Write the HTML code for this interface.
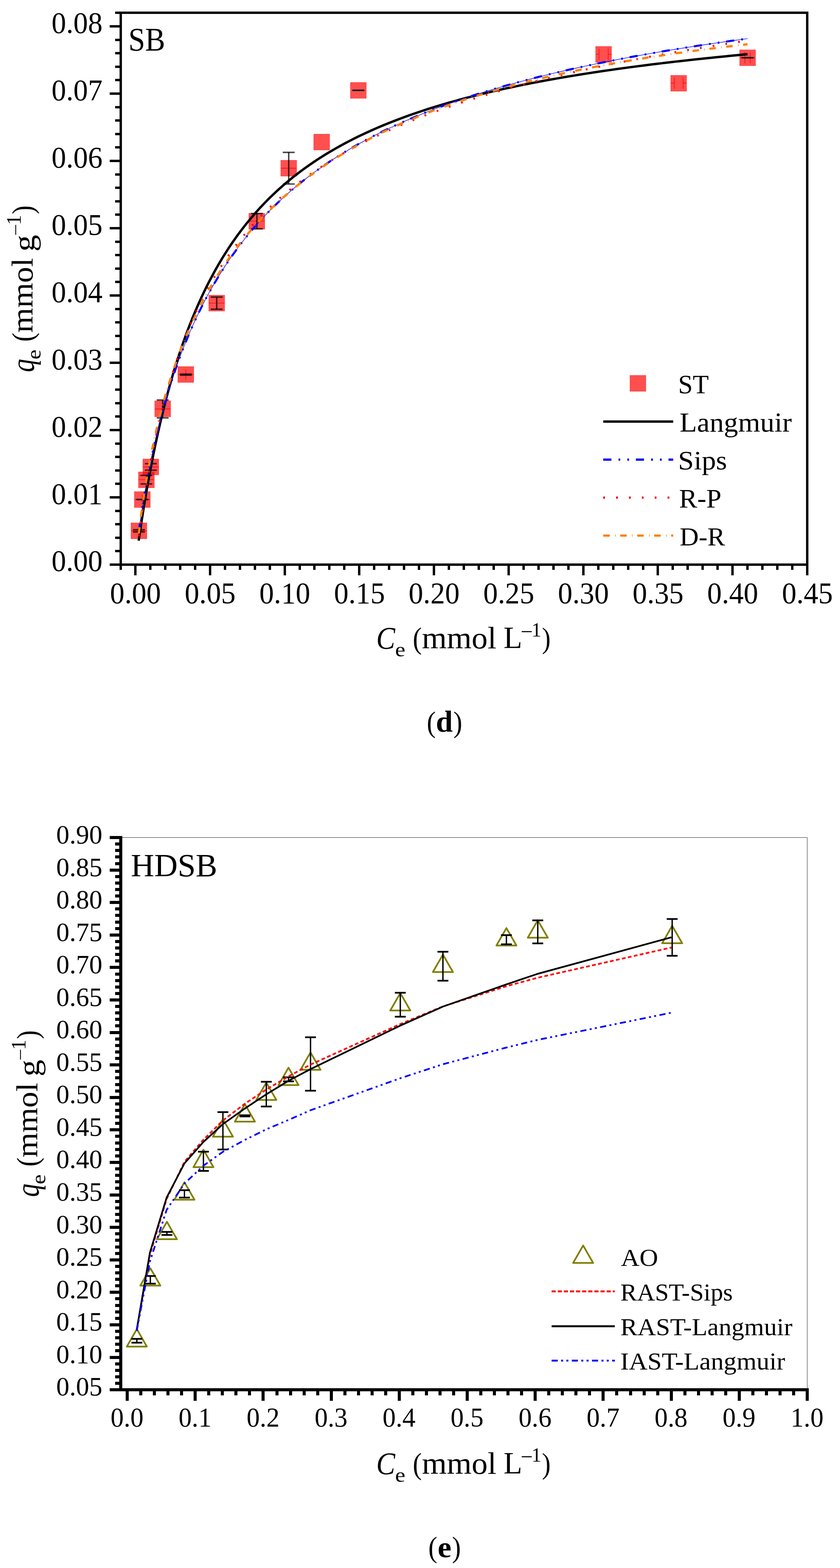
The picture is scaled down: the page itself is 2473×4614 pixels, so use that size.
<!DOCTYPE html>
<html lang="en"><head><meta charset="utf-8"><title>Adsorption isotherms (d) SB, (e) HDSB</title>
<style>
html,body{margin:0;padding:0;background:#fff;}
body{width:2473px;height:4614px;overflow:hidden;}
svg{display:block;}
svg text{font-family:'Liberation Serif','DejaVu Serif',serif;font-size:100px;fill:#000;white-space:pre;}
</style></head>
<body>
<svg width="2473" height="4614" viewBox="0 0 2473 4614">
<rect width="2473" height="4614" fill="#fff"/>
<g id="chart-d">
<rect x="352.00" y="34.00" width="7.00" height="1643.00" fill="#000" shape-rendering="crispEdges"/>
<rect x="339.00" y="34.00" width="2041.00" height="7.00" fill="#000" shape-rendering="crispEdges"/>
<rect x="2373.00" y="34.00" width="7.00" height="1659.00" fill="#000" shape-rendering="crispEdges"/>
<rect x="323.00" y="1658.00" width="2057.00" height="7.00" fill="#000" shape-rendering="crispEdges"/>
<rect x="323.00" y="1658.00" width="29.00" height="7.00" fill="#000" shape-rendering="crispEdges"/>
<rect x="339.00" y="1618.00" width="13.00" height="7.00" fill="#000" shape-rendering="crispEdges"/>
<rect x="339.00" y="1579.00" width="13.00" height="7.00" fill="#000" shape-rendering="crispEdges"/>
<rect x="339.00" y="1539.00" width="13.00" height="7.00" fill="#000" shape-rendering="crispEdges"/>
<rect x="339.00" y="1500.00" width="13.00" height="7.00" fill="#000" shape-rendering="crispEdges"/>
<rect x="323.00" y="1460.00" width="29.00" height="7.00" fill="#000" shape-rendering="crispEdges"/>
<rect x="339.00" y="1420.00" width="13.00" height="7.00" fill="#000" shape-rendering="crispEdges"/>
<rect x="339.00" y="1381.00" width="13.00" height="7.00" fill="#000" shape-rendering="crispEdges"/>
<rect x="339.00" y="1341.00" width="13.00" height="7.00" fill="#000" shape-rendering="crispEdges"/>
<rect x="339.00" y="1302.00" width="13.00" height="7.00" fill="#000" shape-rendering="crispEdges"/>
<rect x="323.00" y="1262.00" width="29.00" height="7.00" fill="#000" shape-rendering="crispEdges"/>
<rect x="339.00" y="1222.00" width="13.00" height="7.00" fill="#000" shape-rendering="crispEdges"/>
<rect x="339.00" y="1183.00" width="13.00" height="7.00" fill="#000" shape-rendering="crispEdges"/>
<rect x="339.00" y="1143.00" width="13.00" height="7.00" fill="#000" shape-rendering="crispEdges"/>
<rect x="339.00" y="1104.00" width="13.00" height="7.00" fill="#000" shape-rendering="crispEdges"/>
<rect x="323.00" y="1064.00" width="29.00" height="7.00" fill="#000" shape-rendering="crispEdges"/>
<rect x="339.00" y="1024.00" width="13.00" height="7.00" fill="#000" shape-rendering="crispEdges"/>
<rect x="339.00" y="985.00" width="13.00" height="7.00" fill="#000" shape-rendering="crispEdges"/>
<rect x="339.00" y="945.00" width="13.00" height="7.00" fill="#000" shape-rendering="crispEdges"/>
<rect x="339.00" y="906.00" width="13.00" height="7.00" fill="#000" shape-rendering="crispEdges"/>
<rect x="323.00" y="866.00" width="29.00" height="7.00" fill="#000" shape-rendering="crispEdges"/>
<rect x="339.00" y="826.00" width="13.00" height="7.00" fill="#000" shape-rendering="crispEdges"/>
<rect x="339.00" y="787.00" width="13.00" height="7.00" fill="#000" shape-rendering="crispEdges"/>
<rect x="339.00" y="747.00" width="13.00" height="7.00" fill="#000" shape-rendering="crispEdges"/>
<rect x="339.00" y="708.00" width="13.00" height="7.00" fill="#000" shape-rendering="crispEdges"/>
<rect x="323.00" y="668.00" width="29.00" height="7.00" fill="#000" shape-rendering="crispEdges"/>
<rect x="339.00" y="628.00" width="13.00" height="7.00" fill="#000" shape-rendering="crispEdges"/>
<rect x="339.00" y="589.00" width="13.00" height="7.00" fill="#000" shape-rendering="crispEdges"/>
<rect x="339.00" y="549.00" width="13.00" height="7.00" fill="#000" shape-rendering="crispEdges"/>
<rect x="339.00" y="510.00" width="13.00" height="7.00" fill="#000" shape-rendering="crispEdges"/>
<rect x="323.00" y="470.00" width="29.00" height="7.00" fill="#000" shape-rendering="crispEdges"/>
<rect x="339.00" y="430.00" width="13.00" height="7.00" fill="#000" shape-rendering="crispEdges"/>
<rect x="339.00" y="391.00" width="13.00" height="7.00" fill="#000" shape-rendering="crispEdges"/>
<rect x="339.00" y="351.00" width="13.00" height="7.00" fill="#000" shape-rendering="crispEdges"/>
<rect x="339.00" y="312.00" width="13.00" height="7.00" fill="#000" shape-rendering="crispEdges"/>
<rect x="323.00" y="272.00" width="29.00" height="7.00" fill="#000" shape-rendering="crispEdges"/>
<rect x="339.00" y="232.00" width="13.00" height="7.00" fill="#000" shape-rendering="crispEdges"/>
<rect x="339.00" y="193.00" width="13.00" height="7.00" fill="#000" shape-rendering="crispEdges"/>
<rect x="339.00" y="153.00" width="13.00" height="7.00" fill="#000" shape-rendering="crispEdges"/>
<rect x="339.00" y="114.00" width="13.00" height="7.00" fill="#000" shape-rendering="crispEdges"/>
<rect x="323.00" y="74.00" width="29.00" height="7.00" fill="#000" shape-rendering="crispEdges"/>
<rect x="395.00" y="1665.00" width="7.00" height="28.00" fill="#000" shape-rendering="crispEdges"/>
<rect x="439.00" y="1665.00" width="7.00" height="12.00" fill="#000" shape-rendering="crispEdges"/>
<rect x="483.00" y="1665.00" width="7.00" height="12.00" fill="#000" shape-rendering="crispEdges"/>
<rect x="527.00" y="1665.00" width="7.00" height="12.00" fill="#000" shape-rendering="crispEdges"/>
<rect x="571.00" y="1665.00" width="7.00" height="12.00" fill="#000" shape-rendering="crispEdges"/>
<rect x="615.00" y="1665.00" width="7.00" height="28.00" fill="#000" shape-rendering="crispEdges"/>
<rect x="659.00" y="1665.00" width="7.00" height="12.00" fill="#000" shape-rendering="crispEdges"/>
<rect x="703.00" y="1665.00" width="7.00" height="12.00" fill="#000" shape-rendering="crispEdges"/>
<rect x="747.00" y="1665.00" width="7.00" height="12.00" fill="#000" shape-rendering="crispEdges"/>
<rect x="791.00" y="1665.00" width="7.00" height="12.00" fill="#000" shape-rendering="crispEdges"/>
<rect x="835.00" y="1665.00" width="7.00" height="28.00" fill="#000" shape-rendering="crispEdges"/>
<rect x="879.00" y="1665.00" width="7.00" height="12.00" fill="#000" shape-rendering="crispEdges"/>
<rect x="922.00" y="1665.00" width="7.00" height="12.00" fill="#000" shape-rendering="crispEdges"/>
<rect x="966.00" y="1665.00" width="7.00" height="12.00" fill="#000" shape-rendering="crispEdges"/>
<rect x="1010.00" y="1665.00" width="7.00" height="12.00" fill="#000" shape-rendering="crispEdges"/>
<rect x="1054.00" y="1665.00" width="7.00" height="28.00" fill="#000" shape-rendering="crispEdges"/>
<rect x="1098.00" y="1665.00" width="7.00" height="12.00" fill="#000" shape-rendering="crispEdges"/>
<rect x="1142.00" y="1665.00" width="7.00" height="12.00" fill="#000" shape-rendering="crispEdges"/>
<rect x="1186.00" y="1665.00" width="7.00" height="12.00" fill="#000" shape-rendering="crispEdges"/>
<rect x="1230.00" y="1665.00" width="7.00" height="12.00" fill="#000" shape-rendering="crispEdges"/>
<rect x="1274.00" y="1665.00" width="7.00" height="28.00" fill="#000" shape-rendering="crispEdges"/>
<rect x="1318.00" y="1665.00" width="7.00" height="12.00" fill="#000" shape-rendering="crispEdges"/>
<rect x="1362.00" y="1665.00" width="7.00" height="12.00" fill="#000" shape-rendering="crispEdges"/>
<rect x="1406.00" y="1665.00" width="7.00" height="12.00" fill="#000" shape-rendering="crispEdges"/>
<rect x="1450.00" y="1665.00" width="7.00" height="12.00" fill="#000" shape-rendering="crispEdges"/>
<rect x="1494.00" y="1665.00" width="7.00" height="28.00" fill="#000" shape-rendering="crispEdges"/>
<rect x="1538.00" y="1665.00" width="7.00" height="12.00" fill="#000" shape-rendering="crispEdges"/>
<rect x="1582.00" y="1665.00" width="7.00" height="12.00" fill="#000" shape-rendering="crispEdges"/>
<rect x="1626.00" y="1665.00" width="7.00" height="12.00" fill="#000" shape-rendering="crispEdges"/>
<rect x="1670.00" y="1665.00" width="7.00" height="12.00" fill="#000" shape-rendering="crispEdges"/>
<rect x="1714.00" y="1665.00" width="7.00" height="28.00" fill="#000" shape-rendering="crispEdges"/>
<rect x="1758.00" y="1665.00" width="7.00" height="12.00" fill="#000" shape-rendering="crispEdges"/>
<rect x="1802.00" y="1665.00" width="7.00" height="12.00" fill="#000" shape-rendering="crispEdges"/>
<rect x="1846.00" y="1665.00" width="7.00" height="12.00" fill="#000" shape-rendering="crispEdges"/>
<rect x="1890.00" y="1665.00" width="7.00" height="12.00" fill="#000" shape-rendering="crispEdges"/>
<rect x="1933.00" y="1665.00" width="7.00" height="28.00" fill="#000" shape-rendering="crispEdges"/>
<rect x="1977.00" y="1665.00" width="7.00" height="12.00" fill="#000" shape-rendering="crispEdges"/>
<rect x="2021.00" y="1665.00" width="7.00" height="12.00" fill="#000" shape-rendering="crispEdges"/>
<rect x="2065.00" y="1665.00" width="7.00" height="12.00" fill="#000" shape-rendering="crispEdges"/>
<rect x="2109.00" y="1665.00" width="7.00" height="12.00" fill="#000" shape-rendering="crispEdges"/>
<rect x="2153.00" y="1665.00" width="7.00" height="28.00" fill="#000" shape-rendering="crispEdges"/>
<rect x="2197.00" y="1665.00" width="7.00" height="12.00" fill="#000" shape-rendering="crispEdges"/>
<rect x="2241.00" y="1665.00" width="7.00" height="12.00" fill="#000" shape-rendering="crispEdges"/>
<rect x="2285.00" y="1665.00" width="7.00" height="12.00" fill="#000" shape-rendering="crispEdges"/>
<rect x="2329.00" y="1665.00" width="7.00" height="12.00" fill="#000" shape-rendering="crispEdges"/>
<rect x="2373.00" y="1665.00" width="7.00" height="28.00" fill="#000" shape-rendering="crispEdges"/>
<rect x="385.0" y="1538.0" width="48" height="48" fill="#ff0000" fill-opacity="0.69" shape-rendering="crispEdges"/>
<rect x="395.0" y="1445.9" width="48" height="48" fill="#ff0000" fill-opacity="0.69" shape-rendering="crispEdges"/>
<rect x="407.0" y="1387.5" width="48" height="48" fill="#ff0000" fill-opacity="0.69" shape-rendering="crispEdges"/>
<rect x="420.0" y="1349.9" width="48" height="48" fill="#ff0000" fill-opacity="0.69" shape-rendering="crispEdges"/>
<rect x="454.9" y="1179.4" width="48" height="48" fill="#ff0000" fill-opacity="0.69" shape-rendering="crispEdges"/>
<rect x="523.1" y="1078.4" width="48" height="48" fill="#ff0000" fill-opacity="0.69" shape-rendering="crispEdges"/>
<rect x="614.0" y="868.0" width="48" height="48" fill="#ff0000" fill-opacity="0.69" shape-rendering="crispEdges"/>
<rect x="732.3" y="626.8" width="48" height="48" fill="#ff0000" fill-opacity="0.69" shape-rendering="crispEdges"/>
<rect x="826.0" y="470.9" width="48" height="48" fill="#ff0000" fill-opacity="0.69" shape-rendering="crispEdges"/>
<rect x="923.1" y="394.0" width="48" height="48" fill="#ff0000" fill-opacity="0.69" shape-rendering="crispEdges"/>
<rect x="1031.0" y="241.9" width="48" height="48" fill="#ff0000" fill-opacity="0.69" shape-rendering="crispEdges"/>
<rect x="1753.0" y="135.8" width="48" height="48" fill="#ff0000" fill-opacity="0.69" shape-rendering="crispEdges"/>
<rect x="1974.1" y="220.5" width="48" height="48" fill="#ff0000" fill-opacity="0.69" shape-rendering="crispEdges"/>
<rect x="2176.9" y="145.9" width="48" height="48" fill="#ff0000" fill-opacity="0.69" shape-rendering="crispEdges"/>
<g stroke="#ff0000" stroke-width="1.6" fill="none"><line x1="386.0" y1="1562.0" x2="432.0" y2="1562.0"/></g>
<g stroke="#ff0000" stroke-width="1.6" fill="none"><line x1="396.0" y1="1469.9" x2="442.0" y2="1469.9"/><line x1="419.0" y1="1454.9" x2="419.0" y2="1484.9"/></g>
<g stroke="#ff0000" stroke-width="1.6" fill="none"><line x1="408.0" y1="1411.5" x2="454.0" y2="1411.5"/></g>
<g stroke="#ff0000" stroke-width="1.6" fill="none"><line x1="421.0" y1="1373.9" x2="467.0" y2="1373.9"/></g>
<g stroke="#ff0000" stroke-width="1.6" fill="none"><line x1="455.9" y1="1203.4" x2="501.9" y2="1203.4"/></g>
<g stroke="#ff0000" stroke-width="1.6" fill="none"><line x1="524.1" y1="1102.4" x2="570.1" y2="1102.4"/><line x1="547.1" y1="1087.4" x2="547.1" y2="1117.4"/></g>
<g stroke="#ff0000" stroke-width="1.6" fill="none"><line x1="615.0" y1="892.0" x2="661.0" y2="892.0"/></g>
<g stroke="#ff0000" stroke-width="1.6" fill="none"><line x1="733.3" y1="650.8" x2="779.3" y2="650.8"/></g>
<g stroke="#ff0000" stroke-width="1.6" fill="none"><line x1="827.0" y1="494.9" x2="873.0" y2="494.9"/></g>
<g stroke="#ff0000" stroke-width="1.6" fill="none"><line x1="1763.5" y1="142.8" x2="1763.5" y2="176.8"/><line x1="1790.5" y1="142.8" x2="1790.5" y2="176.8"/><line x1="1754.0" y1="159.8" x2="1763.5" y2="159.8"/><line x1="1790.5" y1="159.8" x2="1800.0" y2="159.8"/></g>
<g stroke="#ff0000" stroke-width="1.6" fill="none"><line x1="1985.1" y1="227.5" x2="1985.1" y2="261.5"/><line x1="2011.1" y1="227.5" x2="2011.1" y2="261.5"/><line x1="1975.1" y1="244.5" x2="1985.1" y2="244.5"/><line x1="2011.1" y1="244.5" x2="2021.1" y2="244.5"/></g>
<g stroke="#ff0000" stroke-width="1.6" fill="none"><line x1="2192.9" y1="152.9" x2="2192.9" y2="186.9"/><line x1="2208.9" y1="152.9" x2="2208.9" y2="186.9"/><line x1="2177.9" y1="169.9" x2="2192.9" y2="169.9"/><line x1="2208.9" y1="169.9" x2="2223.9" y2="169.9"/></g>
<g stroke="#000" stroke-opacity="0.74" stroke-width="4.2" fill="none"><line x1="409.0" y1="1558.9" x2="409.0" y2="1565.1"/><line x1="391.5" y1="1558.9" x2="426.5" y2="1558.9"/><line x1="391.5" y1="1565.1" x2="426.5" y2="1565.1"/></g>
<g stroke="#000" stroke-opacity="0.95" stroke-width="4.2" fill="none"><line x1="401.2" y1="1469.9" x2="436.8" y2="1469.9"/></g>
<g stroke="#000" stroke-opacity="0.74" stroke-width="4.2" fill="none"><line x1="431.0" y1="1399.0" x2="431.0" y2="1424.0"/><line x1="413.5" y1="1399.0" x2="448.5" y2="1399.0"/><line x1="413.5" y1="1424.0" x2="448.5" y2="1424.0"/></g>
<g stroke="#000" stroke-opacity="0.74" stroke-width="4.2" fill="none"><line x1="444.0" y1="1364.3" x2="444.0" y2="1383.5"/><line x1="426.5" y1="1364.3" x2="461.5" y2="1364.3"/><line x1="426.5" y1="1383.5" x2="461.5" y2="1383.5"/></g>
<g stroke="#000" stroke-opacity="0.74" stroke-width="4.2" fill="none"><line x1="478.9" y1="1177.1" x2="478.9" y2="1229.7"/><line x1="461.4" y1="1177.1" x2="496.4" y2="1177.1"/><line x1="461.4" y1="1229.7" x2="496.4" y2="1229.7"/></g>
<g stroke="#000" stroke-opacity="0.74" stroke-width="4.2" fill="none"><line x1="547.1" y1="1100.9" x2="547.1" y2="1103.9"/><line x1="529.6" y1="1100.9" x2="564.6" y2="1100.9"/><line x1="529.6" y1="1103.9" x2="564.6" y2="1103.9"/></g>
<g stroke="#000" stroke-opacity="0.74" stroke-width="4.2" fill="none"><line x1="638.0" y1="874.1" x2="638.0" y2="909.9"/><line x1="620.5" y1="874.1" x2="655.5" y2="874.1"/><line x1="620.5" y1="909.9" x2="655.5" y2="909.9"/></g>
<g stroke="#000" stroke-opacity="0.74" stroke-width="4.2" fill="none"><line x1="756.3" y1="628.3" x2="756.3" y2="673.3"/><line x1="738.8" y1="628.3" x2="773.8" y2="628.3"/><line x1="738.8" y1="673.3" x2="773.8" y2="673.3"/></g>
<g stroke="#000" stroke-opacity="0.74" stroke-width="4.2" fill="none"><line x1="850.0" y1="448.3" x2="850.0" y2="541.5"/><line x1="832.5" y1="448.3" x2="867.5" y2="448.3"/><line x1="832.5" y1="541.5" x2="867.5" y2="541.5"/></g>
<g stroke="#000" stroke-opacity="0.95" stroke-width="4.2" fill="none"><line x1="1037.2" y1="265.9" x2="1072.8" y2="265.9"/></g>
<g stroke="#000" stroke-opacity="0.95" stroke-width="4.2" fill="none"><line x1="2183.1" y1="169.9" x2="2218.7" y2="169.9"/></g>
<path d="M408.2,1591.1 L408.7,1587.7 L412.3,1563.5 L415.8,1540.0 L419.4,1517.2 L422.9,1495.0 L426.5,1473.5 L430.0,1452.5 L433.6,1432.2 L437.1,1412.4 L440.7,1393.1 L444.2,1374.4 L447.8,1356.1 L451.3,1338.3 L454.9,1320.9 L458.4,1304.0 L462.0,1287.5 L465.5,1271.4 L469.1,1255.7 L472.6,1240.4 L476.2,1225.4 L479.7,1210.8 L483.3,1196.6 L486.8,1182.6 L490.4,1169.0 L494.0,1155.6 L497.5,1142.6 L501.1,1129.8 L504.6,1117.4 L508.2,1105.2 L511.7,1093.2 L515.3,1081.5 L518.8,1070.0 L522.4,1058.8 L525.9,1047.8 L529.5,1037.0 L533.0,1026.5 L536.6,1016.1 L540.1,1006.0 L543.7,996.0 L547.2,986.2 L550.8,976.7 L554.3,967.3 L557.9,958.0 L561.4,949.0 L565.0,940.1 L568.5,931.3 L572.1,922.8 L575.7,914.3 L579.2,906.1 L582.8,897.9 L586.3,889.9 L589.9,882.1 L593.4,874.4 L597.0,866.8 L600.5,859.3 L604.1,852.0 L607.6,844.7 L611.2,837.6 L614.7,830.7 L618.3,823.8 L631.6,799.0 L644.9,775.6 L658.2,753.5 L671.5,732.6 L684.8,712.8 L698.1,694.0 L711.4,676.1 L724.7,659.1 L738.0,642.9 L751.3,627.5 L764.6,612.7 L777.9,598.6 L791.1,585.1 L804.4,572.2 L817.7,559.8 L831.0,547.9 L844.3,536.5 L857.6,525.5 L870.9,515.0 L884.2,504.8 L897.5,495.0 L910.8,485.6 L924.1,476.5 L937.4,467.7 L950.7,459.3 L964.0,451.1 L977.3,443.2 L990.6,435.5 L1003.9,428.1 L1017.2,420.9 L1030.5,414.0 L1043.8,407.2 L1057.1,400.7 L1070.4,394.3 L1083.7,388.2 L1097.0,382.2 L1110.3,376.4 L1123.6,370.7 L1136.9,365.3 L1150.2,359.9 L1163.5,354.7 L1176.8,349.7 L1190.1,344.7 L1203.4,339.9 L1216.7,335.3 L1230.0,330.7 L1243.3,326.2 L1256.6,321.9 L1269.9,317.7 L1283.2,313.6 L1296.5,309.5 L1309.8,305.6 L1323.1,301.7 L1336.4,298.0 L1349.6,294.3 L1362.9,290.7 L1376.2,287.2 L1389.5,283.8 L1402.8,280.4 L1416.1,277.1 L1429.4,273.9 L1442.7,270.8 L1456.0,267.7 L1469.3,264.7 L1482.6,261.7 L1495.9,258.8 L1509.2,256.0 L1522.5,253.2 L1535.8,250.4 L1549.1,247.8 L1562.4,245.1 L1575.7,242.6 L1589.0,240.0 L1602.3,237.5 L1615.6,235.1 L1628.9,232.7 L1642.2,230.4 L1655.5,228.1 L1668.8,225.8 L1682.1,223.6 L1695.4,221.4 L1708.7,219.2 L1722.0,217.1 L1735.3,215.1 L1748.6,213.0 L1761.9,211.0 L1775.2,209.0 L1788.5,207.1 L1801.8,205.2 L1815.1,203.3 L1828.4,201.5 L1841.7,199.6 L1855.0,197.9 L1868.3,196.1 L1881.6,194.4 L1894.9,192.7 L1908.1,191.0 L1921.4,189.3 L1934.7,187.7 L1948.0,186.1 L1961.3,184.5 L1974.6,183.0 L1987.9,181.4 L2001.2,179.9 L2014.5,178.4 L2027.8,176.9 L2041.1,175.5 L2054.4,174.1 L2067.7,172.7 L2081.0,171.3 L2094.3,169.9 L2107.6,168.6 L2120.9,167.2 L2134.2,165.9 L2147.5,164.6 L2160.8,163.3 L2174.1,162.1 L2187.4,160.8 L2200.7,159.6" fill="none" stroke="#000" stroke-width="7"/>
<path d="M408.7,1564.9 L412.3,1538.7 L415.8,1514.1 L419.4,1490.9 L422.9,1468.9 L426.5,1447.9 L430.0,1427.7 L433.6,1408.4 L437.1,1389.8 L440.7,1371.8 L444.2,1354.5 L447.8,1337.7 L451.3,1321.4 L454.9,1305.6 L458.4,1290.3 L462.0,1275.4 L465.5,1260.9 L469.1,1246.8 L472.6,1233.1 L476.2,1219.7 L479.7,1206.6 L483.3,1193.8 L486.8,1181.4 L490.4,1169.2 L494.0,1157.3 L497.5,1145.7 L501.1,1134.3 L504.6,1123.2 L508.2,1112.3 L511.7,1101.6 L515.3,1091.1 L518.8,1080.9 L522.4,1070.8 L525.9,1061.0 L529.5,1051.3 L533.0,1041.8 L536.6,1032.5 L540.1,1023.4 L543.7,1014.4 L547.2,1005.5 L550.8,996.9 L554.3,988.4 L557.9,980.0 L561.4,971.7 L565.0,963.6 L568.5,955.7 L572.1,947.8 L575.7,940.1 L579.2,932.5 L582.8,925.1 L586.3,917.7 L589.9,910.5 L593.4,903.3 L597.0,896.3 L600.5,889.4 L604.1,882.6 L607.6,875.9 L611.2,869.2 L614.7,862.7 L618.3,856.3 L631.6,833.0 L644.9,810.8 L658.2,789.7 L671.5,769.6 L684.8,750.4 L698.1,732.1 L711.4,714.5 L724.7,697.6 L738.0,681.5 L751.3,666.0 L764.6,651.1 L777.9,636.7 L791.1,622.9 L804.4,609.5 L817.7,596.7 L831.0,584.3 L844.3,572.2 L857.6,560.6 L870.9,549.4 L884.2,538.5 L897.5,528.0 L910.8,517.8 L924.1,507.9 L937.4,498.3 L950.7,489.0 L964.0,479.9 L977.3,471.1 L990.6,462.5 L1003.9,454.2 L1017.2,446.1 L1030.5,438.2 L1043.8,430.5 L1057.1,423.0 L1070.4,415.7 L1083.7,408.6 L1097.0,401.6 L1110.3,394.8 L1123.6,388.2 L1136.9,381.7 L1150.2,375.4 L1163.5,369.3 L1176.8,363.2 L1190.1,357.3 L1203.4,351.5 L1216.7,345.9 L1230.0,340.4 L1243.3,335.0 L1256.6,329.7 L1269.9,324.5 L1283.2,319.4 L1296.5,314.4 L1309.8,309.5 L1323.1,304.8 L1336.4,300.1 L1349.6,295.5 L1362.9,291.0 L1376.2,286.5 L1389.5,282.2 L1402.8,277.9 L1416.1,273.7 L1429.4,269.6 L1442.7,265.6 L1456.0,261.6 L1469.3,257.7 L1482.6,253.9 L1495.9,250.2 L1509.2,246.5 L1522.5,242.8 L1535.8,239.2 L1549.1,235.7 L1562.4,232.3 L1575.7,228.9 L1589.0,225.5 L1602.3,222.2 L1615.6,219.0 L1628.9,215.8 L1642.2,212.7 L1655.5,209.6 L1668.8,206.5 L1682.1,203.5 L1695.4,200.6 L1708.7,197.7 L1722.0,194.8 L1735.3,192.0 L1748.6,189.2 L1761.9,186.4 L1775.2,183.7 L1788.5,181.1 L1801.8,178.4 L1815.1,175.8 L1828.4,173.3 L1841.7,170.8 L1855.0,168.3 L1868.3,165.8 L1881.6,163.4 L1894.9,161.0 L1908.1,158.7 L1921.4,156.3 L1934.7,154.0 L1948.0,151.8 L1961.3,149.5 L1974.6,147.3 L1987.9,145.1 L2001.2,143.0 L2014.5,140.9 L2027.8,138.8 L2041.1,136.7 L2054.4,134.6 L2067.7,132.6 L2081.0,130.6 L2094.3,128.6 L2107.6,126.7 L2120.9,124.8 L2134.2,122.9 L2147.5,121.0 L2160.8,119.1 L2174.1,117.3 L2187.4,115.5 L2200.7,113.7" fill="none" stroke="#0000ff" stroke-width="1.6"/>
<path d="M408.7,1564.9 L412.3,1538.7 L415.8,1514.1 L419.4,1490.9 L422.9,1468.9 L426.5,1447.9 L430.0,1427.7 L433.6,1408.4 L437.1,1389.8 L440.7,1371.8 L444.2,1354.5 L447.8,1337.7 L451.3,1321.4 L454.9,1305.6 L458.4,1290.3 L462.0,1275.4 L465.5,1260.9 L469.1,1246.8 L472.6,1233.1 L476.2,1219.7 L479.7,1206.6 L483.3,1193.8 L486.8,1181.4 L490.4,1169.2 L494.0,1157.3 L497.5,1145.7 L501.1,1134.3 L504.6,1123.2 L508.2,1112.3 L511.7,1101.6 L515.3,1091.1 L518.8,1080.9 L522.4,1070.8 L525.9,1061.0 L529.5,1051.3 L533.0,1041.8 L536.6,1032.5 L540.1,1023.4 L543.7,1014.4 L547.2,1005.5 L550.8,996.9 L554.3,988.4 L557.9,980.0 L561.4,971.7 L565.0,963.6 L568.5,955.7 L572.1,947.8 L575.7,940.1 L579.2,932.5 L582.8,925.1 L586.3,917.7 L589.9,910.5 L593.4,903.3 L597.0,896.3 L600.5,889.4 L604.1,882.6 L607.6,875.9 L611.2,869.2 L614.7,862.7 L618.3,856.3 L631.6,833.0 L644.9,810.8 L658.2,789.7 L671.5,769.6 L684.8,750.4 L698.1,732.1 L711.4,714.5 L724.7,697.6 L738.0,681.5 L751.3,666.0 L764.6,651.1 L777.9,636.7 L791.1,622.9 L804.4,609.5 L817.7,596.7 L831.0,584.3 L844.3,572.2 L857.6,560.6 L870.9,549.4 L884.2,538.5 L897.5,528.0 L910.8,517.8 L924.1,507.9 L937.4,498.3 L950.7,489.0 L964.0,479.9 L977.3,471.1 L990.6,462.5 L1003.9,454.2 L1017.2,446.1 L1030.5,438.2 L1043.8,430.5 L1057.1,423.0 L1070.4,415.7 L1083.7,408.6 L1097.0,401.6 L1110.3,394.8 L1123.6,388.2 L1136.9,381.7 L1150.2,375.4 L1163.5,369.3 L1176.8,363.2 L1190.1,357.3 L1203.4,351.5 L1216.7,345.9 L1230.0,340.4 L1243.3,335.0 L1256.6,329.7 L1269.9,324.5 L1283.2,319.4 L1296.5,314.4 L1309.8,309.5 L1323.1,304.8 L1336.4,300.1 L1349.6,295.5 L1362.9,291.0 L1376.2,286.5 L1389.5,282.2 L1402.8,277.9 L1416.1,273.7 L1429.4,269.6 L1442.7,265.6 L1456.0,261.6 L1469.3,257.7 L1482.6,253.9 L1495.9,250.2 L1509.2,246.5 L1522.5,242.8 L1535.8,239.2 L1549.1,235.7 L1562.4,232.3 L1575.7,228.9 L1589.0,225.5 L1602.3,222.2 L1615.6,219.0 L1628.9,215.8 L1642.2,212.7 L1655.5,209.6 L1668.8,206.5 L1682.1,203.5 L1695.4,200.6 L1708.7,197.7 L1722.0,194.8 L1735.3,192.0 L1748.6,189.2 L1761.9,186.4 L1775.2,183.7 L1788.5,181.1 L1801.8,178.4 L1815.1,175.8 L1828.4,173.3 L1841.7,170.8 L1855.0,168.3 L1868.3,165.8 L1881.6,163.4 L1894.9,161.0 L1908.1,158.7 L1921.4,156.3 L1934.7,154.0 L1948.0,151.8 L1961.3,149.5 L1974.6,147.3 L1987.9,145.1 L2001.2,143.0 L2014.5,140.9 L2027.8,138.8 L2041.1,136.7 L2054.4,134.6 L2067.7,132.6 L2081.0,130.6 L2094.3,128.6 L2107.6,126.7 L2120.9,124.8 L2134.2,122.9 L2147.5,121.0 L2160.8,119.1 L2174.1,117.3 L2187.4,115.5 L2200.7,113.7" fill="none" stroke="#0000ff" stroke-width="6" stroke-dasharray="24 21 5 21 5 20"/>
<path d="M408.7,1578.2 L412.3,1551.7 L415.8,1526.4 L419.4,1502.2 L422.9,1478.9 L426.5,1456.5 L430.0,1434.9 L433.6,1414.1 L437.1,1394.1 L440.7,1374.7 L444.2,1355.9 L447.8,1337.8 L451.3,1320.2 L454.9,1303.2 L458.4,1286.7 L462.0,1270.7 L465.5,1255.1 L469.1,1240.0 L472.6,1225.3 L476.2,1211.0 L479.7,1197.0 L483.3,1183.5 L486.8,1170.3 L490.4,1157.4 L494.0,1144.8 L497.5,1132.6 L501.1,1120.6 L504.6,1109.0 L508.2,1097.6 L511.7,1086.4 L515.3,1075.5 L518.8,1064.9 L522.4,1054.5 L525.9,1044.3 L529.5,1034.3 L533.0,1024.5 L536.6,1014.9 L540.1,1005.6 L543.7,996.4 L547.2,987.4 L550.8,978.6 L554.3,969.9 L557.9,961.4 L561.4,953.1 L565.0,944.9 L568.5,936.9 L572.1,929.0 L575.7,921.2 L579.2,913.6 L582.8,906.1 L586.3,898.8 L589.9,891.6 L593.4,884.5 L597.0,877.5 L600.5,870.6 L604.1,863.9 L607.6,857.2 L611.2,850.7 L614.7,844.2 L618.3,837.9 L631.6,815.0 L644.9,793.4 L658.2,772.9 L671.5,753.4 L684.8,734.9 L698.1,717.3 L711.4,700.4 L724.7,684.4 L738.0,669.0 L751.3,654.2 L764.6,640.1 L777.9,626.5 L791.1,613.5 L804.4,600.9 L817.7,588.8 L831.0,577.1 L844.3,565.8 L857.6,555.0 L870.9,544.4 L884.2,534.2 L897.5,524.4 L910.8,514.8 L924.1,505.6 L937.4,496.6 L950.7,487.8 L964.0,479.4 L977.3,471.1 L990.6,463.1 L1003.9,455.3 L1017.2,447.7 L1030.5,440.3 L1043.8,433.1 L1057.1,426.0 L1070.4,419.2 L1083.7,412.5 L1097.0,405.9 L1110.3,399.5 L1123.6,393.3 L1136.9,387.2 L1150.2,381.2 L1163.5,375.4 L1176.8,369.6 L1190.1,364.0 L1203.4,358.6 L1216.7,353.2 L1230.0,347.9 L1243.3,342.8 L1256.6,337.7 L1269.9,332.8 L1283.2,327.9 L1296.5,323.1 L1309.8,318.4 L1323.1,313.8 L1336.4,309.3 L1349.6,304.9 L1362.9,300.5 L1376.2,296.2 L1389.5,292.0 L1402.8,287.9 L1416.1,283.8 L1429.4,279.8 L1442.7,275.8 L1456.0,271.9 L1469.3,268.1 L1482.6,264.4 L1495.9,260.7 L1509.2,257.0 L1522.5,253.4 L1535.8,249.9 L1549.1,246.4 L1562.4,243.0 L1575.7,239.6 L1589.0,236.2 L1602.3,232.9 L1615.6,229.7 L1628.9,226.5 L1642.2,223.3 L1655.5,220.2 L1668.8,217.1 L1682.1,214.1 L1695.4,211.1 L1708.7,208.1 L1722.0,205.2 L1735.3,202.3 L1748.6,199.5 L1761.9,196.7 L1775.2,193.9 L1788.5,191.2 L1801.8,188.4 L1815.1,185.8 L1828.4,183.1 L1841.7,180.5 L1855.0,177.9 L1868.3,175.4 L1881.6,172.8 L1894.9,170.3 L1908.1,167.9 L1921.4,165.4 L1934.7,163.0 L1948.0,160.6 L1961.3,158.2 L1974.6,155.9 L1987.9,153.6 L2001.2,151.3 L2014.5,149.0 L2027.8,146.8 L2041.1,144.6 L2054.4,142.4 L2067.7,140.2 L2081.0,138.0 L2094.3,135.9 L2107.6,133.8 L2120.9,131.7 L2134.2,129.6 L2147.5,127.6 L2160.8,125.5 L2174.1,123.5 L2187.4,121.5 L2200.7,119.5" fill="none" stroke="#ff0000" stroke-width="6" stroke-dasharray="5 33"/>
<path d="M408.7,1570.3 L412.3,1540.9 L415.8,1513.4 L419.4,1487.7 L422.9,1463.4 L426.5,1440.4 L430.0,1418.6 L433.6,1397.8 L437.1,1377.9 L440.7,1358.9 L444.2,1340.6 L447.8,1323.0 L451.3,1306.1 L454.9,1289.8 L458.4,1274.0 L462.0,1258.8 L465.5,1244.0 L469.1,1229.7 L472.6,1215.8 L476.2,1202.3 L479.7,1189.1 L483.3,1176.4 L486.8,1163.9 L490.4,1151.8 L494.0,1140.0 L497.5,1128.5 L501.1,1117.2 L504.6,1106.2 L508.2,1095.5 L511.7,1085.0 L515.3,1074.7 L518.8,1064.7 L522.4,1054.9 L525.9,1045.2 L529.5,1035.8 L533.0,1026.5 L536.6,1017.5 L540.1,1008.6 L543.7,999.8 L547.2,991.3 L550.8,982.9 L554.3,974.6 L557.9,966.5 L561.4,958.5 L565.0,950.7 L568.5,943.0 L572.1,935.4 L575.7,928.0 L579.2,920.6 L582.8,913.4 L586.3,906.3 L589.9,899.3 L593.4,892.4 L597.0,885.7 L600.5,879.0 L604.1,872.4 L607.6,865.9 L611.2,859.6 L614.7,853.3 L618.3,847.1 L631.6,824.6 L644.9,803.2 L658.2,782.9 L671.5,763.5 L684.8,745.0 L698.1,727.2 L711.4,710.2 L724.7,693.9 L738.0,678.3 L751.3,663.2 L764.6,648.7 L777.9,634.8 L791.1,621.3 L804.4,608.3 L817.7,595.7 L831.0,583.6 L844.3,571.9 L857.6,560.5 L870.9,549.5 L884.2,538.9 L897.5,528.5 L910.8,518.5 L924.1,508.8 L937.4,499.3 L950.7,490.2 L964.0,481.2 L977.3,472.5 L990.6,464.1 L1003.9,455.9 L1017.2,447.9 L1030.5,440.1 L1043.8,432.5 L1057.1,425.1 L1070.4,417.9 L1083.7,410.8 L1097.0,404.0 L1110.3,397.2 L1123.6,390.7 L1136.9,384.3 L1150.2,378.1 L1163.5,372.0 L1176.8,366.0 L1190.1,360.2 L1203.4,354.5 L1216.7,348.9 L1230.0,343.5 L1243.3,338.1 L1256.6,332.9 L1269.9,327.8 L1283.2,322.8 L1296.5,317.9 L1309.8,313.1 L1323.1,308.4 L1336.4,303.8 L1349.6,299.3 L1362.9,294.9 L1376.2,290.6 L1389.5,286.4 L1402.8,282.2 L1416.1,278.1 L1429.4,274.1 L1442.7,270.2 L1456.0,266.3 L1469.3,262.6 L1482.6,258.9 L1495.9,255.2 L1509.2,251.7 L1522.5,248.2 L1535.8,244.7 L1549.1,241.3 L1562.4,238.0 L1575.7,234.8 L1589.0,231.6 L1602.3,228.4 L1615.6,225.4 L1628.9,222.3 L1642.2,219.4 L1655.5,216.4 L1668.8,213.6 L1682.1,210.7 L1695.4,207.9 L1708.7,205.2 L1722.0,202.5 L1735.3,199.9 L1748.6,197.3 L1761.9,194.8 L1775.2,192.2 L1788.5,189.8 L1801.8,187.4 L1815.1,185.0 L1828.4,182.6 L1841.7,180.3 L1855.0,178.1 L1868.3,175.8 L1881.6,173.6 L1894.9,171.5 L1908.1,169.3 L1921.4,167.2 L1934.7,165.2 L1948.0,163.2 L1961.3,161.2 L1974.6,159.2 L1987.9,157.3 L2001.2,155.4 L2014.5,153.5 L2027.8,151.7 L2041.1,149.8 L2054.4,148.1 L2067.7,146.3 L2081.0,144.6 L2094.3,142.9 L2107.6,141.2 L2120.9,139.5 L2134.2,137.9 L2147.5,136.3 L2160.8,134.7 L2174.1,133.2 L2187.4,131.7 L2200.7,130.2" fill="none" stroke="#ff8000" stroke-width="6.5" stroke-dasharray="19 16 1.5 13.5"/>
<rect x="1854" y="1104" width="48" height="48" fill="#ff0000" fill-opacity="0.69" shape-rendering="crispEdges"/>
<rect x="1776.00" y="1236.50" width="206.00" height="7.50" fill="#000" shape-rendering="crispEdges"/>
<path d="M1776,1352.5 H1982" stroke="#0000ff" stroke-width="6.5" stroke-dasharray="24 21 5 21 5 20" fill="none"/>
<path d="M1776,1464.3 H1982" stroke="#ff0000" stroke-width="6.5" stroke-dasharray="5 32.9" fill="none"/>
<path d="M1776,1576 H1982" stroke="#ff8000" stroke-width="6.5" stroke-dasharray="19 16 1.5 13.5" fill="none"/>
<text transform="matrix(0.7724,0,0,0.7786,1996.58,1157.30)">ST</text>
<text transform="matrix(0.8379,0,0,0.7954,2000.79,1270.30)">Langmuir</text>
<text transform="matrix(0.8364,0,0,0.7878,1996.16,1380.60)">Sips</text>
<text transform="matrix(0.8013,0,0,0.7771,1999.20,1493.00)">R-P</text>
<text transform="matrix(0.7763,0,0,0.7695,2000.97,1604.60)">D-R</text>
<text transform="matrix(0.8847,0,0,0.9695,378.05,149.00)">SB</text>
<text transform="matrix(0.8575,0,0,0.8824,151.77,1680.48)">0.00</text>
<text transform="matrix(0.8575,0,0,0.8824,151.77,1482.58)">0.01</text>
<text transform="matrix(0.8575,0,0,0.8824,151.77,1284.68)">0.02</text>
<text transform="matrix(0.8575,0,0,0.8824,151.77,1086.78)">0.03</text>
<text transform="matrix(0.8575,0,0,0.8824,151.77,888.88)">0.04</text>
<text transform="matrix(0.8575,0,0,0.8824,151.77,690.98)">0.05</text>
<text transform="matrix(0.8575,0,0,0.8824,151.77,493.08)">0.06</text>
<text transform="matrix(0.8575,0,0,0.8824,151.77,295.18)">0.07</text>
<text transform="matrix(0.8575,0,0,0.8824,151.77,97.28)">0.08</text>
<text transform="matrix(0.8575,0,0,0.8824,323.87,1775.38)">0.00</text>
<text transform="matrix(0.8575,0,0,0.8824,543.65,1775.38)">0.05</text>
<text transform="matrix(0.8575,0,0,0.8824,763.43,1775.38)">0.10</text>
<text transform="matrix(0.8575,0,0,0.8824,983.21,1775.38)">0.15</text>
<text transform="matrix(0.8575,0,0,0.8824,1202.99,1775.38)">0.20</text>
<text transform="matrix(0.8575,0,0,0.8824,1422.77,1775.38)">0.25</text>
<text transform="matrix(0.8575,0,0,0.8824,1642.55,1775.38)">0.30</text>
<text transform="matrix(0.8575,0,0,0.8824,1862.33,1775.38)">0.35</text>
<text transform="matrix(0.8575,0,0,0.8824,2082.11,1775.38)">0.40</text>
<text transform="matrix(0.8575,0,0,0.8824,2301.89,1775.38)">0.45</text>
<text transform="matrix(0.8339,0,0,0.9358,1107.81,1908.66)" font-style="italic">C</text>
<text transform="matrix(0.6784,0,0,0.5979,1163.29,1930.80)">e</text>
<text transform="matrix(0.7961,0,0,0.8900,1215.32,1908.31)">(</text>
<text transform="matrix(0.9420,0,0,0.9057,1241.92,1907.99)">mmol</text>
<text transform="matrix(0.9000,0,0,0.9046,1482.50,1906.70)">L</text>
<text transform="matrix(0.6366,0,0,0.6400,1532.72,1879.82)">−</text>
<text transform="matrix(0.5829,0,0,0.6015,1564.75,1873.30)">1</text>
<text transform="matrix(0.7654,0,0,0.8778,1595.60,1907.47)">)</text>
<text transform="matrix(0,-0.7731,0.8811,0,96.60,630.32)">)</text>
<text transform="matrix(0,-0.6086,0.6107,0,61.00,662.58)">1</text>
<text transform="matrix(0,-0.6258,0.5000,0,62.85,694.13)">−</text>
<text transform="matrix(0,-0.9908,0.8841,0,101.43,740.56)">g</text>
<text transform="matrix(0,-0.9425,0.8886,0,96.11,978.88)">mmol</text>
<text transform="matrix(0,-0.7961,0.8911,0,97.29,1005.58)">(</text>
<text transform="matrix(0,-0.6595,0.5875,0,119.41,1057.84)">e</text>
<text transform="matrix(0,-0.7795,0.9426,0,100.20,1094.93)" font-style="italic">q</text>
</g>
<g id="cap-d">
<text transform="matrix(0.7922,0,0,0.8644,1256.44,2153.65)">(</text>
<text transform="matrix(0.8931,0,0,0.8843,1283.23,2152.92)" font-weight="bold">d</text>
<text transform="matrix(0.7846,0,0,0.8644,1334.65,2153.65)">)</text>
</g>
<g id="chart-e">
<rect x="360.00" y="2464.00" width="2017.00" height="1.00" fill="#000" shape-rendering="crispEdges"/>
<rect x="2376.00" y="2464.00" width="1.00" height="1622.00" fill="#000" shape-rendering="crispEdges"/>
<rect x="351.00" y="2460.00" width="9.00" height="1634.00" fill="#000" shape-rendering="crispEdges"/>
<rect x="323.00" y="4085.00" width="2058.00" height="9.00" fill="#000" shape-rendering="crispEdges"/>
<rect x="323.00" y="4085.00" width="28.00" height="9.00" fill="#000" shape-rendering="crispEdges"/>
<rect x="339.00" y="4066.00" width="12.00" height="9.00" fill="#000" shape-rendering="crispEdges"/>
<rect x="339.00" y="4047.00" width="12.00" height="9.00" fill="#000" shape-rendering="crispEdges"/>
<rect x="339.00" y="4028.00" width="12.00" height="9.00" fill="#000" shape-rendering="crispEdges"/>
<rect x="339.00" y="4009.00" width="12.00" height="9.00" fill="#000" shape-rendering="crispEdges"/>
<rect x="323.00" y="3990.00" width="28.00" height="9.00" fill="#000" shape-rendering="crispEdges"/>
<rect x="339.00" y="3970.00" width="12.00" height="9.00" fill="#000" shape-rendering="crispEdges"/>
<rect x="339.00" y="3951.00" width="12.00" height="9.00" fill="#000" shape-rendering="crispEdges"/>
<rect x="339.00" y="3932.00" width="12.00" height="9.00" fill="#000" shape-rendering="crispEdges"/>
<rect x="339.00" y="3913.00" width="12.00" height="9.00" fill="#000" shape-rendering="crispEdges"/>
<rect x="323.00" y="3894.00" width="28.00" height="9.00" fill="#000" shape-rendering="crispEdges"/>
<rect x="339.00" y="3875.00" width="12.00" height="9.00" fill="#000" shape-rendering="crispEdges"/>
<rect x="339.00" y="3856.00" width="12.00" height="9.00" fill="#000" shape-rendering="crispEdges"/>
<rect x="339.00" y="3837.00" width="12.00" height="9.00" fill="#000" shape-rendering="crispEdges"/>
<rect x="339.00" y="3817.00" width="12.00" height="9.00" fill="#000" shape-rendering="crispEdges"/>
<rect x="323.00" y="3798.00" width="28.00" height="9.00" fill="#000" shape-rendering="crispEdges"/>
<rect x="339.00" y="3779.00" width="12.00" height="9.00" fill="#000" shape-rendering="crispEdges"/>
<rect x="339.00" y="3760.00" width="12.00" height="9.00" fill="#000" shape-rendering="crispEdges"/>
<rect x="339.00" y="3741.00" width="12.00" height="9.00" fill="#000" shape-rendering="crispEdges"/>
<rect x="339.00" y="3722.00" width="12.00" height="9.00" fill="#000" shape-rendering="crispEdges"/>
<rect x="323.00" y="3703.00" width="28.00" height="9.00" fill="#000" shape-rendering="crispEdges"/>
<rect x="339.00" y="3684.00" width="12.00" height="9.00" fill="#000" shape-rendering="crispEdges"/>
<rect x="339.00" y="3665.00" width="12.00" height="9.00" fill="#000" shape-rendering="crispEdges"/>
<rect x="339.00" y="3645.00" width="12.00" height="9.00" fill="#000" shape-rendering="crispEdges"/>
<rect x="339.00" y="3626.00" width="12.00" height="9.00" fill="#000" shape-rendering="crispEdges"/>
<rect x="323.00" y="3607.00" width="28.00" height="9.00" fill="#000" shape-rendering="crispEdges"/>
<rect x="339.00" y="3588.00" width="12.00" height="9.00" fill="#000" shape-rendering="crispEdges"/>
<rect x="339.00" y="3569.00" width="12.00" height="9.00" fill="#000" shape-rendering="crispEdges"/>
<rect x="339.00" y="3550.00" width="12.00" height="9.00" fill="#000" shape-rendering="crispEdges"/>
<rect x="339.00" y="3531.00" width="12.00" height="9.00" fill="#000" shape-rendering="crispEdges"/>
<rect x="323.00" y="3512.00" width="28.00" height="9.00" fill="#000" shape-rendering="crispEdges"/>
<rect x="339.00" y="3492.00" width="12.00" height="9.00" fill="#000" shape-rendering="crispEdges"/>
<rect x="339.00" y="3473.00" width="12.00" height="9.00" fill="#000" shape-rendering="crispEdges"/>
<rect x="339.00" y="3454.00" width="12.00" height="9.00" fill="#000" shape-rendering="crispEdges"/>
<rect x="339.00" y="3435.00" width="12.00" height="9.00" fill="#000" shape-rendering="crispEdges"/>
<rect x="323.00" y="3416.00" width="28.00" height="9.00" fill="#000" shape-rendering="crispEdges"/>
<rect x="339.00" y="3397.00" width="12.00" height="9.00" fill="#000" shape-rendering="crispEdges"/>
<rect x="339.00" y="3378.00" width="12.00" height="9.00" fill="#000" shape-rendering="crispEdges"/>
<rect x="339.00" y="3359.00" width="12.00" height="9.00" fill="#000" shape-rendering="crispEdges"/>
<rect x="339.00" y="3339.00" width="12.00" height="9.00" fill="#000" shape-rendering="crispEdges"/>
<rect x="323.00" y="3320.00" width="28.00" height="9.00" fill="#000" shape-rendering="crispEdges"/>
<rect x="339.00" y="3301.00" width="12.00" height="9.00" fill="#000" shape-rendering="crispEdges"/>
<rect x="339.00" y="3282.00" width="12.00" height="9.00" fill="#000" shape-rendering="crispEdges"/>
<rect x="339.00" y="3263.00" width="12.00" height="9.00" fill="#000" shape-rendering="crispEdges"/>
<rect x="339.00" y="3244.00" width="12.00" height="9.00" fill="#000" shape-rendering="crispEdges"/>
<rect x="323.00" y="3225.00" width="28.00" height="9.00" fill="#000" shape-rendering="crispEdges"/>
<rect x="339.00" y="3206.00" width="12.00" height="9.00" fill="#000" shape-rendering="crispEdges"/>
<rect x="339.00" y="3187.00" width="12.00" height="9.00" fill="#000" shape-rendering="crispEdges"/>
<rect x="339.00" y="3167.00" width="12.00" height="9.00" fill="#000" shape-rendering="crispEdges"/>
<rect x="339.00" y="3148.00" width="12.00" height="9.00" fill="#000" shape-rendering="crispEdges"/>
<rect x="323.00" y="3129.00" width="28.00" height="9.00" fill="#000" shape-rendering="crispEdges"/>
<rect x="339.00" y="3110.00" width="12.00" height="9.00" fill="#000" shape-rendering="crispEdges"/>
<rect x="339.00" y="3091.00" width="12.00" height="9.00" fill="#000" shape-rendering="crispEdges"/>
<rect x="339.00" y="3072.00" width="12.00" height="9.00" fill="#000" shape-rendering="crispEdges"/>
<rect x="339.00" y="3053.00" width="12.00" height="9.00" fill="#000" shape-rendering="crispEdges"/>
<rect x="323.00" y="3034.00" width="28.00" height="9.00" fill="#000" shape-rendering="crispEdges"/>
<rect x="339.00" y="3014.00" width="12.00" height="9.00" fill="#000" shape-rendering="crispEdges"/>
<rect x="339.00" y="2995.00" width="12.00" height="9.00" fill="#000" shape-rendering="crispEdges"/>
<rect x="339.00" y="2976.00" width="12.00" height="9.00" fill="#000" shape-rendering="crispEdges"/>
<rect x="339.00" y="2957.00" width="12.00" height="9.00" fill="#000" shape-rendering="crispEdges"/>
<rect x="323.00" y="2938.00" width="28.00" height="9.00" fill="#000" shape-rendering="crispEdges"/>
<rect x="339.00" y="2919.00" width="12.00" height="9.00" fill="#000" shape-rendering="crispEdges"/>
<rect x="339.00" y="2900.00" width="12.00" height="9.00" fill="#000" shape-rendering="crispEdges"/>
<rect x="339.00" y="2881.00" width="12.00" height="9.00" fill="#000" shape-rendering="crispEdges"/>
<rect x="339.00" y="2862.00" width="12.00" height="9.00" fill="#000" shape-rendering="crispEdges"/>
<rect x="323.00" y="2842.00" width="28.00" height="9.00" fill="#000" shape-rendering="crispEdges"/>
<rect x="339.00" y="2823.00" width="12.00" height="9.00" fill="#000" shape-rendering="crispEdges"/>
<rect x="339.00" y="2804.00" width="12.00" height="9.00" fill="#000" shape-rendering="crispEdges"/>
<rect x="339.00" y="2785.00" width="12.00" height="9.00" fill="#000" shape-rendering="crispEdges"/>
<rect x="339.00" y="2766.00" width="12.00" height="9.00" fill="#000" shape-rendering="crispEdges"/>
<rect x="323.00" y="2747.00" width="28.00" height="9.00" fill="#000" shape-rendering="crispEdges"/>
<rect x="339.00" y="2728.00" width="12.00" height="9.00" fill="#000" shape-rendering="crispEdges"/>
<rect x="339.00" y="2709.00" width="12.00" height="9.00" fill="#000" shape-rendering="crispEdges"/>
<rect x="339.00" y="2689.00" width="12.00" height="9.00" fill="#000" shape-rendering="crispEdges"/>
<rect x="339.00" y="2670.00" width="12.00" height="9.00" fill="#000" shape-rendering="crispEdges"/>
<rect x="323.00" y="2651.00" width="28.00" height="9.00" fill="#000" shape-rendering="crispEdges"/>
<rect x="339.00" y="2632.00" width="12.00" height="9.00" fill="#000" shape-rendering="crispEdges"/>
<rect x="339.00" y="2613.00" width="12.00" height="9.00" fill="#000" shape-rendering="crispEdges"/>
<rect x="339.00" y="2594.00" width="12.00" height="9.00" fill="#000" shape-rendering="crispEdges"/>
<rect x="339.00" y="2575.00" width="12.00" height="9.00" fill="#000" shape-rendering="crispEdges"/>
<rect x="323.00" y="2556.00" width="28.00" height="9.00" fill="#000" shape-rendering="crispEdges"/>
<rect x="339.00" y="2537.00" width="12.00" height="9.00" fill="#000" shape-rendering="crispEdges"/>
<rect x="339.00" y="2517.00" width="12.00" height="9.00" fill="#000" shape-rendering="crispEdges"/>
<rect x="339.00" y="2498.00" width="12.00" height="9.00" fill="#000" shape-rendering="crispEdges"/>
<rect x="339.00" y="2479.00" width="12.00" height="9.00" fill="#000" shape-rendering="crispEdges"/>
<rect x="323.00" y="2460.00" width="28.00" height="9.00" fill="#000" shape-rendering="crispEdges"/>
<rect x="370.00" y="4094.00" width="9.00" height="28.00" fill="#000" shape-rendering="crispEdges"/>
<rect x="410.00" y="4094.00" width="9.00" height="12.00" fill="#000" shape-rendering="crispEdges"/>
<rect x="450.00" y="4094.00" width="9.00" height="12.00" fill="#000" shape-rendering="crispEdges"/>
<rect x="490.00" y="4094.00" width="9.00" height="12.00" fill="#000" shape-rendering="crispEdges"/>
<rect x="530.00" y="4094.00" width="9.00" height="12.00" fill="#000" shape-rendering="crispEdges"/>
<rect x="570.00" y="4094.00" width="9.00" height="28.00" fill="#000" shape-rendering="crispEdges"/>
<rect x="610.00" y="4094.00" width="9.00" height="12.00" fill="#000" shape-rendering="crispEdges"/>
<rect x="650.00" y="4094.00" width="9.00" height="12.00" fill="#000" shape-rendering="crispEdges"/>
<rect x="690.00" y="4094.00" width="9.00" height="12.00" fill="#000" shape-rendering="crispEdges"/>
<rect x="730.00" y="4094.00" width="9.00" height="12.00" fill="#000" shape-rendering="crispEdges"/>
<rect x="770.00" y="4094.00" width="9.00" height="28.00" fill="#000" shape-rendering="crispEdges"/>
<rect x="811.00" y="4094.00" width="9.00" height="12.00" fill="#000" shape-rendering="crispEdges"/>
<rect x="851.00" y="4094.00" width="9.00" height="12.00" fill="#000" shape-rendering="crispEdges"/>
<rect x="891.00" y="4094.00" width="9.00" height="12.00" fill="#000" shape-rendering="crispEdges"/>
<rect x="931.00" y="4094.00" width="9.00" height="12.00" fill="#000" shape-rendering="crispEdges"/>
<rect x="971.00" y="4094.00" width="9.00" height="28.00" fill="#000" shape-rendering="crispEdges"/>
<rect x="1011.00" y="4094.00" width="9.00" height="12.00" fill="#000" shape-rendering="crispEdges"/>
<rect x="1051.00" y="4094.00" width="9.00" height="12.00" fill="#000" shape-rendering="crispEdges"/>
<rect x="1091.00" y="4094.00" width="9.00" height="12.00" fill="#000" shape-rendering="crispEdges"/>
<rect x="1131.00" y="4094.00" width="9.00" height="12.00" fill="#000" shape-rendering="crispEdges"/>
<rect x="1171.00" y="4094.00" width="9.00" height="28.00" fill="#000" shape-rendering="crispEdges"/>
<rect x="1211.00" y="4094.00" width="9.00" height="12.00" fill="#000" shape-rendering="crispEdges"/>
<rect x="1251.00" y="4094.00" width="9.00" height="12.00" fill="#000" shape-rendering="crispEdges"/>
<rect x="1291.00" y="4094.00" width="9.00" height="12.00" fill="#000" shape-rendering="crispEdges"/>
<rect x="1331.00" y="4094.00" width="9.00" height="12.00" fill="#000" shape-rendering="crispEdges"/>
<rect x="1371.00" y="4094.00" width="9.00" height="28.00" fill="#000" shape-rendering="crispEdges"/>
<rect x="1411.00" y="4094.00" width="9.00" height="12.00" fill="#000" shape-rendering="crispEdges"/>
<rect x="1451.00" y="4094.00" width="9.00" height="12.00" fill="#000" shape-rendering="crispEdges"/>
<rect x="1491.00" y="4094.00" width="9.00" height="12.00" fill="#000" shape-rendering="crispEdges"/>
<rect x="1531.00" y="4094.00" width="9.00" height="12.00" fill="#000" shape-rendering="crispEdges"/>
<rect x="1571.00" y="4094.00" width="9.00" height="28.00" fill="#000" shape-rendering="crispEdges"/>
<rect x="1611.00" y="4094.00" width="9.00" height="12.00" fill="#000" shape-rendering="crispEdges"/>
<rect x="1651.00" y="4094.00" width="9.00" height="12.00" fill="#000" shape-rendering="crispEdges"/>
<rect x="1691.00" y="4094.00" width="9.00" height="12.00" fill="#000" shape-rendering="crispEdges"/>
<rect x="1731.00" y="4094.00" width="9.00" height="12.00" fill="#000" shape-rendering="crispEdges"/>
<rect x="1771.00" y="4094.00" width="9.00" height="28.00" fill="#000" shape-rendering="crispEdges"/>
<rect x="1811.00" y="4094.00" width="9.00" height="12.00" fill="#000" shape-rendering="crispEdges"/>
<rect x="1852.00" y="4094.00" width="9.00" height="12.00" fill="#000" shape-rendering="crispEdges"/>
<rect x="1892.00" y="4094.00" width="9.00" height="12.00" fill="#000" shape-rendering="crispEdges"/>
<rect x="1932.00" y="4094.00" width="9.00" height="12.00" fill="#000" shape-rendering="crispEdges"/>
<rect x="1972.00" y="4094.00" width="9.00" height="28.00" fill="#000" shape-rendering="crispEdges"/>
<rect x="2012.00" y="4094.00" width="9.00" height="12.00" fill="#000" shape-rendering="crispEdges"/>
<rect x="2052.00" y="4094.00" width="9.00" height="12.00" fill="#000" shape-rendering="crispEdges"/>
<rect x="2092.00" y="4094.00" width="9.00" height="12.00" fill="#000" shape-rendering="crispEdges"/>
<rect x="2132.00" y="4094.00" width="9.00" height="12.00" fill="#000" shape-rendering="crispEdges"/>
<rect x="2172.00" y="4094.00" width="9.00" height="28.00" fill="#000" shape-rendering="crispEdges"/>
<rect x="2212.00" y="4094.00" width="9.00" height="12.00" fill="#000" shape-rendering="crispEdges"/>
<rect x="2252.00" y="4094.00" width="9.00" height="12.00" fill="#000" shape-rendering="crispEdges"/>
<rect x="2292.00" y="4094.00" width="9.00" height="12.00" fill="#000" shape-rendering="crispEdges"/>
<rect x="2332.00" y="4094.00" width="9.00" height="12.00" fill="#000" shape-rendering="crispEdges"/>
<rect x="2372.00" y="4094.00" width="9.00" height="28.00" fill="#000" shape-rendering="crispEdges"/>
<path d="M402.9,3911.1 L432.3,3962.4 L373.4,3962.4 Z" fill="none" stroke="#808000" stroke-width="5.0" stroke-linejoin="round"/>
<path d="M442.6,3731.8 L472.1,3783.1 L413.2,3783.1 Z" fill="none" stroke="#808000" stroke-width="5.0" stroke-linejoin="round"/>
<path d="M491.4,3595.3 L520.9,3646.6 L461.9,3646.6 Z" fill="none" stroke="#808000" stroke-width="5.0" stroke-linejoin="round"/>
<path d="M543.0,3478.9 L572.5,3530.2 L513.5,3530.2 Z" fill="none" stroke="#808000" stroke-width="5.0" stroke-linejoin="round"/>
<path d="M598.9,3383.1 L628.4,3434.4 L569.4,3434.4 Z" fill="none" stroke="#808000" stroke-width="5.0" stroke-linejoin="round"/>
<path d="M656.3,3293.4 L685.8,3344.7 L626.8,3344.7 Z" fill="none" stroke="#808000" stroke-width="5.0" stroke-linejoin="round"/>
<path d="M721.0,3249.3 L750.5,3300.6 L691.5,3300.6 Z" fill="none" stroke="#808000" stroke-width="5.0" stroke-linejoin="round"/>
<path d="M784.0,3185.4 L813.5,3236.7 L754.5,3236.7 Z" fill="none" stroke="#808000" stroke-width="5.0" stroke-linejoin="round"/>
<path d="M849.4,3141.8 L878.9,3193.1 L819.9,3193.1 Z" fill="none" stroke="#808000" stroke-width="5.0" stroke-linejoin="round"/>
<path d="M914.2,3096.7 L943.7,3148.0 L884.8,3148.0 Z" fill="none" stroke="#808000" stroke-width="5.0" stroke-linejoin="round"/>
<path d="M1178.5,2922.3 L1208.0,2973.6 L1149.0,2973.6 Z" fill="none" stroke="#808000" stroke-width="5.0" stroke-linejoin="round"/>
<path d="M1304.0,2809.0 L1333.5,2860.3 L1274.5,2860.3 Z" fill="none" stroke="#808000" stroke-width="5.0" stroke-linejoin="round"/>
<path d="M1490.9,2731.0 L1520.4,2782.3 L1461.5,2782.3 Z" fill="none" stroke="#808000" stroke-width="5.0" stroke-linejoin="round"/>
<path d="M1583.2,2707.9 L1612.7,2759.2 L1553.8,2759.2 Z" fill="none" stroke="#808000" stroke-width="5.0" stroke-linejoin="round"/>
<path d="M1978.9,2724.2 L2008.4,2775.5 L1949.5,2775.5 Z" fill="none" stroke="#808000" stroke-width="5.0" stroke-linejoin="round"/>
<g stroke="#000" stroke-width="5" fill="none"><line x1="402.9" y1="3939.7" x2="402.9" y2="3950.9" stroke-width="4"/><line x1="386.9" y1="3939.7" x2="418.9" y2="3939.7"/><line x1="386.9" y1="3950.9" x2="418.9" y2="3950.9"/></g>
<g stroke="#000" stroke-width="5" fill="none"><line x1="442.6" y1="3754.8" x2="442.6" y2="3777.2" stroke-width="4"/><line x1="426.6" y1="3754.8" x2="458.6" y2="3754.8"/><line x1="426.6" y1="3777.2" x2="458.6" y2="3777.2"/></g>
<g stroke="#000" stroke-width="5" fill="none"><line x1="491.4" y1="3625.1" x2="491.4" y2="3633.9" stroke-width="4"/><line x1="475.4" y1="3625.1" x2="507.4" y2="3625.1"/><line x1="475.4" y1="3633.9" x2="507.4" y2="3633.9"/></g>
<g stroke="#000" stroke-width="5" fill="none"><line x1="543.0" y1="3502.2" x2="543.0" y2="3524.0" stroke-width="4"/><line x1="527.0" y1="3502.2" x2="559.0" y2="3502.2"/><line x1="527.0" y1="3524.0" x2="559.0" y2="3524.0"/></g>
<g stroke="#000" stroke-width="5" fill="none"><line x1="598.9" y1="3389.1" x2="598.9" y2="3445.5" stroke-width="4"/><line x1="582.9" y1="3389.1" x2="614.9" y2="3389.1"/><line x1="582.9" y1="3445.5" x2="614.9" y2="3445.5"/></g>
<g stroke="#000" stroke-width="5" fill="none"><line x1="656.3" y1="3272.6" x2="656.3" y2="3382.6" stroke-width="4"/><line x1="640.3" y1="3272.6" x2="672.3" y2="3272.6"/><line x1="640.3" y1="3382.6" x2="672.3" y2="3382.6"/></g>
<g stroke="#000" stroke-width="5" fill="none"><line x1="721.0" y1="3281.8" x2="721.0" y2="3285.2" stroke-width="4"/><line x1="705.0" y1="3281.8" x2="737.0" y2="3281.8"/><line x1="705.0" y1="3285.2" x2="737.0" y2="3285.2"/></g>
<g stroke="#000" stroke-width="5" fill="none"><line x1="784.0" y1="3183.2" x2="784.0" y2="3256.0" stroke-width="4"/><line x1="768.0" y1="3183.2" x2="800.0" y2="3183.2"/><line x1="768.0" y1="3256.0" x2="800.0" y2="3256.0"/></g>
<g stroke="#000" stroke-width="5" fill="none"><line x1="849.4" y1="3170.1" x2="849.4" y2="3181.9" stroke-width="4"/><line x1="833.4" y1="3170.1" x2="865.4" y2="3170.1"/><line x1="833.4" y1="3181.9" x2="865.4" y2="3181.9"/></g>
<g stroke="#000" stroke-width="5" fill="none"><line x1="914.2" y1="3052.3" x2="914.2" y2="3209.5" stroke-width="4"/><line x1="898.2" y1="3052.3" x2="930.2" y2="3052.3"/><line x1="898.2" y1="3209.5" x2="930.2" y2="3209.5"/></g>
<g stroke="#000" stroke-width="5" fill="none"><line x1="1178.5" y1="2921.2" x2="1178.5" y2="2991.8" stroke-width="4"/><line x1="1162.5" y1="2921.2" x2="1194.5" y2="2921.2"/><line x1="1162.5" y1="2991.8" x2="1194.5" y2="2991.8"/></g>
<g stroke="#000" stroke-width="5" fill="none"><line x1="1304.0" y1="2800.6" x2="1304.0" y2="2885.8" stroke-width="4"/><line x1="1288.0" y1="2800.6" x2="1320.0" y2="2800.6"/><line x1="1288.0" y1="2885.8" x2="1320.0" y2="2885.8"/></g>
<g stroke="#000" stroke-width="5" fill="none"><line x1="1490.9" y1="2751.7" x2="1490.9" y2="2778.7" stroke-width="4"/><line x1="1474.9" y1="2751.7" x2="1506.9" y2="2751.7"/><line x1="1474.9" y1="2778.7" x2="1506.9" y2="2778.7"/></g>
<g stroke="#000" stroke-width="5" fill="none"><line x1="1583.2" y1="2708.2" x2="1583.2" y2="2776.0" stroke-width="4"/><line x1="1567.2" y1="2708.2" x2="1599.2" y2="2708.2"/><line x1="1567.2" y1="2776.0" x2="1599.2" y2="2776.0"/></g>
<g stroke="#000" stroke-width="5" fill="none"><line x1="1978.9" y1="2704.3" x2="1978.9" y2="2812.5" stroke-width="4"/><line x1="1962.9" y1="2704.3" x2="1994.9" y2="2704.3"/><line x1="1962.9" y1="2812.5" x2="1994.9" y2="2812.5"/></g>
<path d="M402.6,3914.0 L441.4,3692.0 L490.6,3528.0 L543.0,3419.0 L598.7,3353.9 L656.3,3297.0 L721.0,3247.7 L784.0,3206.0 L849.4,3167.3 L914.2,3132.6 L1178.5,3013.5 L1304.0,2961.5 L1490.9,2902.0 L1583.2,2877.0 L1976.6,2788.2" fill="none" stroke="#ff0000" stroke-width="5" stroke-dasharray="11 7"/>
<path d="M402.6,3912.0 L441.4,3686.0 L490.6,3524.0 L543.0,3423.4 L598.7,3360.4 L656.3,3307.8 L721.0,3261.8 L784.0,3220.1 L849.4,3180.4 L914.2,3146.0 L1178.5,3017.9 L1304.0,2962.0 L1490.9,2896.6 L1583.2,2865.5 L1976.6,2758.2" fill="none" stroke="#000" stroke-width="5" stroke-linejoin="round"/>
<path d="M402.6,3916.0 L441.4,3712.0 L490.6,3560.0 L543.0,3482.7 L598.7,3430.3 L656.3,3389.3 L721.0,3354.3 L784.0,3323.1 L849.4,3295.5 L914.2,3267.0 L1178.5,3172.9 L1304.0,3131.6 L1490.9,3082.5 L1583.2,3059.9 L1976.6,2980.0" fill="none" stroke="#0000ff" stroke-width="5" stroke-dasharray="18 10 5.8 9.7 5.8 10.1"/>
<path d="M1716.8,3665.0 L1746.2,3716.3 L1687.3,3716.3 Z" fill="none" stroke="#808000" stroke-width="5.0" stroke-linejoin="round"/>
<path d="M1624,3800.0 H1810" stroke="#ff0000" stroke-width="5.5" stroke-dasharray="12 6" fill="none"/>
<path d="M1624,3902.6 H1810" stroke="#000" stroke-width="5.6" fill="none"/>
<path d="M1624,4003.7 H1810" stroke="#0000ff" stroke-width="5.4" stroke-dasharray="18 10 5.8 9.7 5.8 10.1" fill="none"/>
<text transform="matrix(0.7577,0,0,0.7252,1828.04,3725.30)">AO</text>
<text transform="matrix(0.7313,0,0,0.7267,1826.61,3826.90)">RAST-Sips</text>
<text transform="matrix(0.7513,0,0,0.7221,1826.55,3929.00)">RAST-Langmuir</text>
<text transform="matrix(0.7576,0,0,0.7282,1826.15,4030.40)">IAST-Langmuir</text>
<text transform="matrix(0.9541,0,0,0.9496,385.24,2579.30)">HDSB</text>
<text transform="matrix(0.7760,0,0,0.7882,165.60,4106.22)">0.05</text>
<text transform="matrix(0.7760,0,0,0.7882,165.60,4010.68)">0.10</text>
<text transform="matrix(0.7760,0,0,0.7882,165.60,3915.14)">0.15</text>
<text transform="matrix(0.7760,0,0,0.7882,165.60,3819.60)">0.20</text>
<text transform="matrix(0.7760,0,0,0.7882,165.60,3724.06)">0.25</text>
<text transform="matrix(0.7760,0,0,0.7882,165.60,3628.52)">0.30</text>
<text transform="matrix(0.7760,0,0,0.7882,165.60,3532.98)">0.35</text>
<text transform="matrix(0.7760,0,0,0.7882,165.60,3437.44)">0.40</text>
<text transform="matrix(0.7760,0,0,0.7882,165.60,3341.90)">0.45</text>
<text transform="matrix(0.7760,0,0,0.7882,165.60,3246.36)">0.50</text>
<text transform="matrix(0.7760,0,0,0.7882,165.60,3150.82)">0.55</text>
<text transform="matrix(0.7760,0,0,0.7882,165.60,3055.28)">0.60</text>
<text transform="matrix(0.7760,0,0,0.7882,165.60,2959.74)">0.65</text>
<text transform="matrix(0.7760,0,0,0.7882,165.60,2864.20)">0.70</text>
<text transform="matrix(0.7760,0,0,0.7882,165.60,2768.66)">0.75</text>
<text transform="matrix(0.7760,0,0,0.7882,165.60,2673.12)">0.80</text>
<text transform="matrix(0.7760,0,0,0.7882,165.60,2577.58)">0.85</text>
<text transform="matrix(0.7760,0,0,0.7882,165.60,2482.04)">0.90</text>
<text transform="matrix(0.7760,0,0,0.7971,325.60,4197.50)">0.0</text>
<text transform="matrix(0.7760,0,0,0.7971,525.79,4197.50)">0.1</text>
<text transform="matrix(0.7760,0,0,0.7971,725.98,4197.50)">0.2</text>
<text transform="matrix(0.7760,0,0,0.7971,926.17,4197.50)">0.3</text>
<text transform="matrix(0.7760,0,0,0.7971,1126.36,4197.50)">0.4</text>
<text transform="matrix(0.7760,0,0,0.7971,1326.55,4197.50)">0.5</text>
<text transform="matrix(0.7760,0,0,0.7971,1526.74,4197.50)">0.6</text>
<text transform="matrix(0.7760,0,0,0.7971,1726.93,4197.50)">0.7</text>
<text transform="matrix(0.7760,0,0,0.7971,1927.12,4197.50)">0.8</text>
<text transform="matrix(0.7760,0,0,0.7971,2127.31,4197.50)">0.9</text>
<text transform="matrix(0.7760,0,0,0.7971,2327.50,4197.50)">1.0</text>
<text transform="matrix(0.8339,0,0,0.9358,1107.81,4337.66)" font-style="italic">C</text>
<text transform="matrix(0.6784,0,0,0.5979,1163.29,4359.80)">e</text>
<text transform="matrix(0.7961,0,0,0.8900,1215.32,4337.31)">(</text>
<text transform="matrix(0.9420,0,0,0.9057,1241.92,4336.99)">mmol</text>
<text transform="matrix(0.9000,0,0,0.9046,1482.50,4335.70)">L</text>
<text transform="matrix(0.6366,0,0,0.6400,1532.72,4307.82)">−</text>
<text transform="matrix(0.5829,0,0,0.6015,1564.75,4301.30)">1</text>
<text transform="matrix(0.7654,0,0,0.8778,1595.60,4336.47)">)</text>
<text transform="matrix(0,-0.7731,0.8811,0,110.60,3057.42)">)</text>
<text transform="matrix(0,-0.6086,0.6107,0,75.00,3089.68)">1</text>
<text transform="matrix(0,-0.6258,0.5000,0,76.85,3121.23)">−</text>
<text transform="matrix(0,-0.9908,0.8841,0,115.43,3167.66)">g</text>
<text transform="matrix(0,-0.9425,0.8886,0,110.11,3405.98)">mmol</text>
<text transform="matrix(0,-0.7961,0.8911,0,111.29,3432.68)">(</text>
<text transform="matrix(0,-0.6595,0.5875,0,133.41,3484.94)">e</text>
<text transform="matrix(0,-0.7795,0.9426,0,114.20,3522.03)" font-style="italic">q</text>
</g>
<g id="cap-e">
<text transform="matrix(0.7961,0,0,0.8656,1261.12,4581.72)">(</text>
<text transform="matrix(0.9143,0,0,0.8750,1288.60,4582.23)" font-weight="bold">e</text>
<text transform="matrix(0.7808,0,0,0.8656,1330.76,4581.72)">)</text>
</g>
</svg>
</body></html>
